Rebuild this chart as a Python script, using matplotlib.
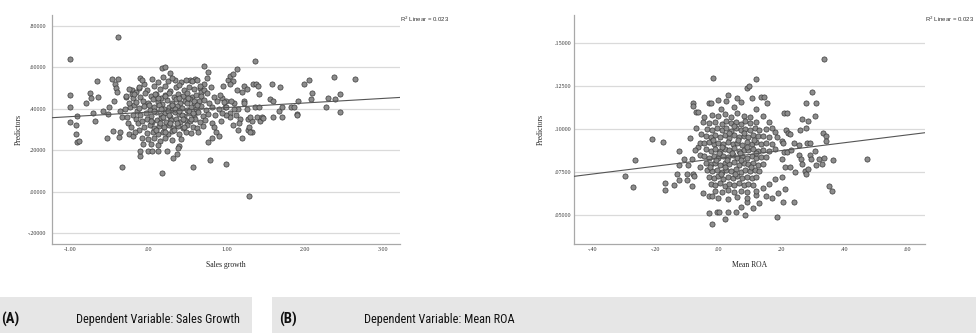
import numpy as np
import matplotlib
matplotlib.use("Agg")
import matplotlib.pyplot as plt
from matplotlib.patches import Rectangle
from matplotlib.ticker import FuncFormatter

# ---- data (Sales growth vs predictors) ----
sales_points = [
    (-0.39, 0.746), (-1.0, 0.64), (-1.0, 0.469), (-1.0, 0.408), (-1.0, 0.334), (-0.91, 0.363), (-0.92, 0.278),
    (-0.91, 0.242), (-0.89, 0.244), (-0.92, 0.32), (-0.75, 0.476), (-0.73, 0.45), (-0.66, 0.535), (-0.64, 0.458),
    (-0.70, 0.38), (-0.68, 0.34), (-0.79, 0.43), (-0.58, 0.389), (-0.53, 0.257), (-0.52, 0.374), (-0.5, 0.41),
    (-0.46, 0.546), (-0.38, 0.546), (-0.42, 0.52), (-0.41, 0.50), (-0.40, 0.48), (-0.45, 0.295), (-0.33, 0.121),
    (-0.37, 0.262), (-0.36, 0.29), (-0.44, 0.44), (-0.36, 0.39), (-0.33, 0.36), (-0.29, 0.458), (-0.21, 0.49),
    (-0.21, 0.47), (-0.23, 0.41), (-0.18, 0.42), (-0.20, 0.37), (-0.16, 0.35), (-0.24, 0.28), (-0.20, 0.27),
    (-0.10, 0.55), (-0.11, 0.17), (-0.10, 0.196), (-0.12, 0.30), (0.0, 0.196), (0.05, 0.196), (0.13, 0.195),
    (0.175, 0.092), (0.24, 0.195), (0.32, 0.16), (0.37, 0.18), (0.39, 0.22), (0.38, 0.21), (0.57, 0.117),
    (0.79, 0.152), (0.99, 0.135), (1.29, -0.022), (0.175, 0.597), (0.22, 0.60), (0.28, 0.575), (0.34, 0.54),
    (0.71, 0.608), (0.77, 0.58), (0.75, 0.55), (0.72, 0.52), (0.66, 0.50), (0.68, 0.48), (0.54, 0.54),
    (0.60, 0.545), (0.96, 0.51), (1.02, 0.54), (1.13, 0.59), (1.05, 0.56), (0.87, 0.29), (0.82, 0.33),
    (0.77, 0.24), (0.82, 0.26), (0.84, 0.31), (0.90, 0.27), (1.04, 0.38), (1.04, 0.36), (1.0, 0.37), (1.27, 0.30),
    (1.36, 0.633), (1.34, 0.52), (1.38, 0.522), (1.40, 0.51), (1.22, 0.508), (1.26, 0.495), (1.22, 0.44),
    (1.22, 0.43), (1.26, 0.40), (1.28, 0.35), (1.29, 0.31), (1.33, 0.29), (1.33, 0.34), (1.36, 0.41), (1.42, 0.41),
    (1.39, 0.36), (1.43, 0.34), (1.45, 0.36), (1.47, 0.355), (1.42, 0.47), (1.56, 0.448), (1.60, 0.44),
    (1.58, 0.52), (1.60, 0.36), (1.68, 0.505), (1.67, 0.39), (1.71, 0.41), (1.71, 0.36), (1.82, 0.41),
    (1.86, 0.41), (1.90, 0.375), (1.90, 0.372), (1.92, 0.44), (1.99, 0.52), (2.05, 0.54), (2.08, 0.445),
    (2.10, 0.475), (2.27, 0.41), (2.30, 0.45), (2.38, 0.555), (2.39, 0.445), (2.45, 0.47), (2.45, 0.385),
    (2.65, 0.545), (1.08, 0.57), (1.09, 0.535), (1.05, 0.52), (1.14, 0.49), (1.2, 0.48), (0.95, 0.45), (1.0, 0.44),
    (1.1, 0.43), (1.15, 0.40), (0.98, 0.41), (1.12, 0.37), (1.18, 0.35), (0.93, 0.34), (1.08, 0.32), (1.15, 0.30),
    (1.2, 0.26), (1.16, 0.33), (1.30, 0.36), (1.30, 0.29),
    (-0.30, 0.40), (-0.27, 0.36), (-0.25, 0.43), (-0.26, 0.33), (-0.22, 0.31), (-0.19, 0.45), (-0.15, 0.48),
    (-0.14, 0.39), (-0.13, 0.33), (-0.17, 0.29), (-0.08, 0.26), (-0.06, 0.23), (-0.12, 0.5), (-0.05, 0.52),
    # dense core
    (-0.08, 0.538), (0.05, 0.545), (0.12, 0.53), (0.19, 0.552), (0.25, 0.535), (0.31, 0.548), (0.42, 0.528),
    (0.48, 0.541), (0.56, 0.532), (0.63, 0.537),
    (-0.25, 0.497), (-0.12, 0.505), (-0.02, 0.49), (0.08, 0.512), (0.15, 0.495), (0.22, 0.508), (0.28, 0.487),
    (0.35, 0.503), (0.40, 0.515), (0.46, 0.492), (0.52, 0.506), (0.58, 0.498), (0.66, 0.512), (0.72, 0.493),
    (0.80, 0.505),
    (-0.28, 0.462), (-0.18, 0.47), (-0.10, 0.455), (-0.04, 0.475), (0.03, 0.46), (0.10, 0.472), (0.16, 0.452),
    (0.21, 0.468), (0.27, 0.477), (0.33, 0.458), (0.38, 0.47), (0.44, 0.462), (0.50, 0.475), (0.56, 0.455),
    (0.61, 0.468), (0.68, 0.46), (0.75, 0.474), (0.84, 0.456), (0.92, 0.466),
    (-0.15, 0.432), (-0.07, 0.44), (0.0, 0.428), (0.06, 0.445), (0.12, 0.435), (0.18, 0.425), (0.24, 0.442),
    (0.30, 0.43), (0.36, 0.446), (0.41, 0.428), (0.47, 0.438), (0.53, 0.447), (0.59, 0.426), (0.65, 0.437),
    (0.71, 0.443), (0.78, 0.429), (0.88, 0.44), (0.97, 0.432), (1.06, 0.436),
    (-0.12, 0.402), (-0.05, 0.412), (0.02, 0.395), (0.08, 0.408), (0.14, 0.418), (0.20, 0.398), (0.26, 0.41),
    (0.31, 0.392), (0.37, 0.415), (0.43, 0.403), (0.49, 0.396), (0.55, 0.41), (0.61, 0.4), (0.68, 0.413),
    (0.74, 0.394), (0.82, 0.407), (0.90, 0.398), (1.00, 0.41), (1.10, 0.4),
    (-0.10, 0.372), (-0.03, 0.38), (0.04, 0.366), (0.10, 0.384), (0.16, 0.37), (0.22, 0.378), (0.28, 0.362),
    (0.34, 0.386), (0.40, 0.374), (0.46, 0.364), (0.52, 0.38), (0.58, 0.37), (0.64, 0.384), (0.70, 0.366),
    (0.77, 0.376), (0.86, 0.368), (0.94, 0.38),
    (-0.08, 0.342), (-0.01, 0.35), (0.05, 0.336), (0.11, 0.348), (0.17, 0.356), (0.23, 0.338), (0.29, 0.345),
    (0.35, 0.352), (0.41, 0.334), (0.47, 0.347), (0.53, 0.34), (0.60, 0.353), (0.66, 0.337), (0.73, 0.346),
    (-0.05, 0.312), (0.02, 0.32), (0.08, 0.305), (0.14, 0.318), (0.20, 0.31), (0.26, 0.322), (0.32, 0.306),
    (0.38, 0.316), (0.44, 0.308), (0.50, 0.32), (0.57, 0.312), (0.63, 0.305), (0.70, 0.318),
    (-0.02, 0.282), (0.06, 0.29), (0.12, 0.276), (0.19, 0.288), (0.25, 0.28), (0.31, 0.292), (0.40, 0.278),
    (0.48, 0.286), (0.55, 0.281), (0.64, 0.29),
    (0.00, 0.252), (0.08, 0.26), (0.15, 0.245), (0.22, 0.258), (0.30, 0.248), (0.42, 0.255),
    (0.04, 0.232), (0.12, 0.226),
    (0.01, 0.42), (0.07, 0.39), (0.13, 0.45), (0.19, 0.36), (0.25, 0.39), (0.31, 0.42), (0.37, 0.33),
    (0.43, 0.37), (0.49, 0.43), (0.55, 0.35), (0.04, 0.34), (0.10, 0.30), (0.16, 0.40), (0.22, 0.46),
    (0.28, 0.33), (0.34, 0.40), (0.40, 0.45), (0.46, 0.31), (0.52, 0.39), (0.58, 0.44), (0.09, 0.47),
    (0.15, 0.33), (0.21, 0.29), (0.27, 0.37), (0.33, 0.30), (0.39, 0.39), (0.45, 0.35), (0.51, 0.45),
    (0.57, 0.38), (0.63, 0.42),
]

# ---- data (Mean ROA vs predictors) ----
roa_points = [
    (-0.016, 0.130), (-0.296, 0.0727), (-0.27, 0.0663), (-0.265, 0.0822), (-0.21, 0.0942), (-0.175, 0.0925),
    (-0.17, 0.069), (-0.168, 0.0647), (-0.14, 0.0675), (-0.125, 0.0875), (-0.125, 0.079), (-0.13, 0.074),
    (-0.125, 0.0705), (-0.10, 0.074), (-0.10, 0.0705), (-0.082, 0.1155), (-0.085, 0.0825), (-0.07, 0.11),
    (-0.08, 0.074), (-0.078, 0.0728), (-0.065, 0.09), (-0.06, 0.092), (-0.06, 0.085), (-0.05, 0.104),
    (-0.045, 0.107), (-0.05, 0.063), (-0.03, 0.1155), (-0.03, 0.061), (-0.02, 0.061), (-0.03, 0.0515),
    (-0.02, 0.045), (-0.005, 0.052), (0.002, 0.052), (0.0, 0.117), (0.02, 0.048), (0.03, 0.052), (0.055, 0.052),
    (-0.081, 0.1137), (-0.066, 0.110), (-0.024, 0.1155), (0.008, 0.112), (0.023, 0.1165),
    (0.335, 0.141), (0.118, 0.129), (0.091, 0.124), (0.096, 0.125), (0.136, 0.119), (0.145, 0.119),
    (0.153, 0.1155), (0.107, 0.118), (0.297, 0.122), (0.279, 0.1155), (0.31, 0.1155), (0.208, 0.1097),
    (0.216, 0.1097), (0.264, 0.106), (0.285, 0.105), (0.305, 0.108), (0.26, 0.0995), (0.277, 0.101),
    (0.33, 0.098), (0.34, 0.096), (0.34, 0.0935), (0.213, 0.0995), (0.22, 0.098), (0.228, 0.097),
    (0.178, 0.0985), (0.185, 0.0955), (0.2, 0.093), (0.205, 0.092), (0.24, 0.092), (0.254, 0.091),
    (0.28, 0.092), (0.29, 0.092), (0.305, 0.0875), (0.208, 0.087), (0.218, 0.087), (0.23, 0.088),
    (0.203, 0.0825), (0.21, 0.078), (0.228, 0.078), (0.255, 0.085), (0.262, 0.083), (0.265, 0.08),
    (0.29, 0.085), (0.295, 0.0825), (0.243, 0.075), (0.275, 0.0755), (0.278, 0.074), (0.284, 0.077),
    (0.32, 0.0825), (0.31, 0.079), (0.178, 0.0712), (0.2, 0.0722), (0.21, 0.0655), (0.19, 0.063),
    (0.205, 0.0575), (0.24, 0.0575), (0.185, 0.049), (0.17, 0.06), (0.15, 0.061), (0.35, 0.067),
    (0.335, 0.0832), (0.327, 0.080), (0.362, 0.082), (0.471, 0.0828), (0.359, 0.064),
    (-0.09, 0.095), (-0.075, 0.088), (-0.095, 0.079), (-0.11, 0.083), (-0.085, 0.067), (-0.06, 0.078),
    (-0.07, 0.101), (-0.055, 0.097),
    (0.07, 0.055), (0.09, 0.058), (0.11, 0.054), (0.13, 0.057), (0.085, 0.05), (0.12, 0.062), (0.14, 0.066),
    (0.16, 0.068), (0.05, 0.113), (0.07, 0.116), (0.03, 0.12), (0.06, 0.118), (0.12, 0.112), (0.14, 0.108),
    (0.16, 0.104), (0.17, 0.101),
    # dense core
    (-0.02, 0.1085), (0.0, 0.1075), (0.02, 0.109), (0.04, 0.107), (0.06, 0.1095), (0.08, 0.108), (0.10, 0.1072),
    (-0.03, 0.1038), (-0.01, 0.1045), (0.01, 0.1032), (0.025, 0.1048), (0.04, 0.1035), (0.055, 0.1042),
    (0.07, 0.103), (0.085, 0.1046), (0.10, 0.1036), (0.12, 0.1043),
    (-0.035, 0.1002), (-0.02, 0.0994), (-0.005, 0.1008), (0.01, 0.0997), (0.025, 0.1005), (0.04, 0.0992),
    (0.055, 0.1009), (0.07, 0.0998), (0.085, 0.1004), (0.10, 0.0995), (0.115, 0.1006), (0.13, 0.0999),
    (0.15, 0.1003),
    (-0.04, 0.0963), (-0.025, 0.0955), (-0.01, 0.0968), (0.005, 0.0958), (0.02, 0.0965), (0.035, 0.0952),
    (0.05, 0.0966), (0.065, 0.0957), (0.08, 0.0962), (0.095, 0.0954), (0.11, 0.0967), (0.125, 0.0959),
    (0.14, 0.0964), (0.16, 0.0956),
    (-0.045, 0.0918), (-0.03, 0.0925), (-0.015, 0.0912), (0.0, 0.0923), (0.015, 0.0916), (0.03, 0.0927),
    (0.045, 0.0914), (0.06, 0.0922), (0.075, 0.0911), (0.09, 0.0926), (0.105, 0.0917), (0.12, 0.0924),
    (0.135, 0.0913), (0.15, 0.0921), (0.17, 0.0915),
    (-0.04, 0.0883), (-0.025, 0.0876), (-0.01, 0.0887), (0.005, 0.0872), (0.02, 0.0885), (0.035, 0.0878),
    (0.05, 0.0889), (0.065, 0.0874), (0.08, 0.0882), (0.095, 0.0877), (0.11, 0.0886), (0.125, 0.0873),
    (0.14, 0.0881), (0.16, 0.0875), (0.18, 0.0884),
    (-0.045, 0.0842), (-0.03, 0.0835), (-0.015, 0.0846), (0.0, 0.0833), (0.015, 0.0844), (0.03, 0.0837),
    (0.045, 0.0848), (0.06, 0.0831), (0.075, 0.0843), (0.09, 0.0836), (0.105, 0.0845), (0.12, 0.0832),
    (0.135, 0.0841), (0.15, 0.0838),
    (-0.04, 0.0803), (-0.025, 0.0796), (-0.01, 0.0807), (0.005, 0.0794), (0.02, 0.0805), (0.035, 0.0798),
    (0.05, 0.0808), (0.065, 0.0792), (0.08, 0.0804), (0.095, 0.0797), (0.11, 0.0806), (0.125, 0.0793),
    (0.14, 0.0801),
    (-0.035, 0.0762), (-0.02, 0.0755), (-0.005, 0.0766), (0.01, 0.0753), (0.025, 0.0764), (0.04, 0.0757),
    (0.055, 0.0768), (0.07, 0.0754), (0.085, 0.0763), (0.10, 0.0756), (0.115, 0.0765), (0.13, 0.0758),
    (-0.03, 0.0722), (-0.015, 0.0715), (0.0, 0.0726), (0.015, 0.0713), (0.03, 0.0724), (0.045, 0.0717),
    (0.06, 0.0728), (0.075, 0.0714), (0.09, 0.0723), (0.105, 0.0716), (0.12, 0.0725),
    (-0.025, 0.0682), (-0.01, 0.0675), (0.005, 0.0686), (0.02, 0.0673), (0.035, 0.0684), (0.05, 0.0677),
    (0.065, 0.0688), (0.08, 0.0674), (0.095, 0.0683), (0.11, 0.0676),
    (-0.01, 0.0642), (0.01, 0.0636), (0.03, 0.0645), (0.05, 0.0638), (0.07, 0.0644), (0.09, 0.0635), (0.12, 0.0641),
    (0.0, 0.0602), (0.03, 0.0596), (0.06, 0.0604), (0.09, 0.0598),
    (-0.018, 0.094), (0.012, 0.09), (0.042, 0.086), (0.072, 0.082), (0.102, 0.078), (-0.008, 0.082),
    (0.022, 0.078), (0.052, 0.074), (0.082, 0.098), (0.112, 0.094), (0.032, 0.098), (0.062, 0.094),
    (0.092, 0.09), (0.002, 0.086), (-0.028, 0.078), (0.118, 0.086), (0.048, 0.102), (0.008, 0.074),
    (0.068, 0.086), (0.028, 0.082),
]

# linear fits as drawn in the reference: (intercept, slope)
sales_fit = (0.384, 0.022)
roa_fit = (0.0831, 0.0228)
r2_label = "R$^2$ Linear = 0.023"

sales_xticks = [-1.0, 0.0, 1.0, 2.0, 3.0]
sales_yticks = [-0.2, 0.0, 0.2, 0.4, 0.6, 0.8]
roa_xticks = [-0.4, -0.2, 0.0, 0.2, 0.4, 0.6]
roa_yticks = [0.05, 0.075, 0.10, 0.125, 0.15]

panel_tags = ["(A)", "(B)"]
panel_captions = ["Dependent Variable: Sales Growth", "Dependent Variable: Mean ROA"]


def spss_fmt(decimals):
    def f(v, pos):
        s = f"{v:.{decimals}f}"
        if abs(v) < 1:
            s = s.replace("0.", ".", 1)
        return s
    return FuncFormatter(f)


serif = "Liberation Serif"
W, H = 976, 333
fig = plt.figure(figsize=(W / 100, H / 100), dpi=100)


def draw_panel(rect, points, fit, xlim, ylim, xticks, yticks, xdec, ydec, xlabel, ylabel_x, ypad):
    ax = fig.add_axes(rect)
    pts = np.array(points)
    ax.set_xlim(*xlim)
    ax.set_ylim(*ylim)
    for y in yticks:
        ax.axhline(y, color="#dadada", lw=0.9, zorder=0)
    ax.scatter(pts[:, 0], pts[:, 1], s=14, facecolor="#8c8c8c", edgecolor="#3a3a3a",
               linewidth=0.5, zorder=2)
    ax.axline((0, fit[0]), slope=fit[1], color="#555555", lw=0.8, zorder=3)
    ax.set_xticks(xticks)
    ax.set_yticks(yticks)
    ax.xaxis.set_major_formatter(spss_fmt(xdec))
    ax.yaxis.set_major_formatter(spss_fmt(ydec))
    ax.tick_params(axis="both", length=0, labelsize=4.3, colors="#333333")
    ax.tick_params(axis="y", pad=ypad)
    ax.tick_params(axis="x", pad=2.5)
    for lab in ax.get_xticklabels() + ax.get_yticklabels():
        lab.set_fontfamily(serif)
    for side in ["top", "right"]:
        ax.spines[side].set_visible(False)
    for side in ["left", "bottom"]:
        ax.spines[side].set_color("#a8a8a8")
        ax.spines[side].set_linewidth(0.9)
    ax.set_xlabel(xlabel, fontsize=5.5, fontfamily=serif, color="#222222")
    ax.set_ylabel("Predictors", fontsize=5.5, fontfamily=serif, color="#222222")
    ax.xaxis.set_label_coords(0.5, -0.075)
    ax.yaxis.set_label_coords(ylabel_x, 0.5)
    ax.text(1.0, 0.983, r2_label, transform=ax.transAxes, fontsize=4.3,
            fontfamily="Liberation Sans", color="#333333", ha="left", va="center")
    return ax


draw_panel([52 / W, 1 - 244 / H, 348 / W, 229 / H], sales_points, sales_fit,
           (-1.23, 3.22), (-0.253, 0.853), sales_xticks, sales_yticks, 2, 5,
           "Sales growth", -0.085, 4.5)
draw_panel([574.3 / W, 1 - 244 / H, 350.7 / W, 229 / H], roa_points, roa_fit,
           (-0.457, 0.655), (0.0333, 0.1665), roa_xticks, roa_yticks, 2, 5,
           "Mean ROA", -0.085, 2.5)

# caption bars
box_lefts = [0, 272]
box_widths = [252, W - 272]
tag_x = [1, 279]
caption_x = [158, 439]
cap_font = ["Liberation Sans Narrow", "Roboto Condensed", "Roboto", "DejaVu Sans"]
for i in range(2):
    fig.patches.append(Rectangle((box_lefts[i] / W, 0), box_widths[i] / W, 36 / H,
                                 transform=fig.transFigure, facecolor="#e6e6e6",
                                 edgecolor="none", zorder=0))
    fig.text(tag_x[i] / W, 0.042, panel_tags[i], fontsize=10.5, fontweight="bold",
             family=cap_font, ha="left", va="center", color="#111111")
    fig.text(caption_x[i] / W, 0.042, panel_captions[i], fontsize=8.8,
             family=cap_font, ha="center", va="center", color="#111111")

fig.savefig("out.png", dpi=100)
